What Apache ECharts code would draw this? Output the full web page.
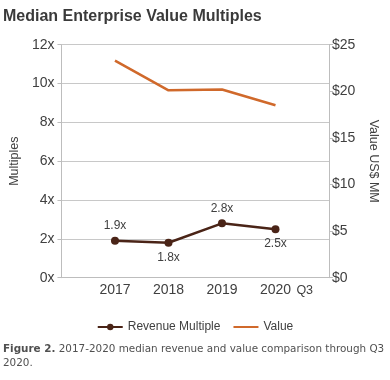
<!DOCTYPE html>
<html><head><meta charset="utf-8">
<script src="https://cdn.jsdelivr.net/npm/echarts@6/dist/echarts.min.js"></script>
<style>html,body{margin:0;padding:0;background:#fff}#c{width:390px;height:380px}</style>
</head><body><div id="c"></div>
<script>
const categories = ['', '2017', '2018', '2019', '2020', ''];
const revenueMultiple = [null, 1.9, 1.8, 2.8, 2.5, null];
const valueMM = [null, 23.3, 20.1, 20.2, 18.5, null];
const labelPositions = [null, 'top', 'bottom', 'top', 'bottom', null];
const leftTicks = { min: 0, max: 12, interval: 2 };
const rightTicks = { min: 0, max: 25, interval: 5 };

const chart = echarts.init(document.getElementById('c'), null, { renderer: 'canvas' });
const txt = '#404040';
const ff = '"Liberation Sans", Arial, sans-serif';
chart.setOption({
  animation: false,
  backgroundColor: '#fff',
  title: [{
    text: 'Median Enterprise Value Multiples',
    left: -2, top: 4,
    textStyle: { fontFamily: ff, fontWeight: 'bold', fontSize: 16, color: '#3a3a3a' }
  }, {
    text: '{b|Figure 2.} 2017-2020 median revenue and value comparison through Q3\n2020.',
    left: -2, top: 337,
    textStyle: {
      fontFamily: '"DejaVu Sans"', fontSize: 10.4, color: '#505050', fontWeight: 'normal', lineHeight: 14,
      rich: { b: { fontFamily: '"DejaVu Sans"', fontSize: 10.4, fontWeight: 'bold', color: '#505050', lineHeight: 14 } }
    }
  }],
  legend: {
    bottom: 42, left: 'center', itemGap: 12, itemWidth: 25, itemHeight: 8,
    textStyle: { fontFamily: ff, fontSize: 12, color: txt },
    data: [{ name: 'Revenue Multiple' }, { name: 'Value', itemStyle: { opacity: 0 } }]
  },
  grid: { left: 57, right: 61, top: 44.7, bottom: 102.3 },
  xAxis: {
    type: 'category', data: categories, boundaryGap: false,
    axisLine: { lineStyle: { color: '#bdbdbd', width: 1 } },
    axisTick: { show: false },
    axisLabel: {
      fontFamily: ff, fontSize: 14, color: txt, margin: 5, interval: 0,
      formatter: function (v) { return v === '2020' ? '{s|}' + v + '{q|Q3}' : v; },
      rich: {
        s: { width: 22 },
        q: { width: 22, align: 'right', fontFamily: ff, fontSize: 12.5, color: txt, padding: [1, 0, 0, 0] }
      }
    }
  },
  yAxis: [{
    type: 'value', min: leftTicks.min, max: leftTicks.max, interval: leftTicks.interval,
    name: 'Multiples', nameLocation: 'middle', nameGap: 40, nameRotate: 90,
    nameTextStyle: { fontFamily: ff, fontSize: 12.5, color: txt },
    axisLine: { show: true, lineStyle: { color: '#bdbdbd' } },
    axisTick: { show: true, length: 4, lineStyle: { color: '#bdbdbd' } },
    splitLine: { lineStyle: { color: '#c8c8c8', width: 1 } },
    axisLabel: { formatter: '{value}x', fontFamily: ff, fontSize: 14, color: txt, margin: 7 }
  }, {
    type: 'value', min: rightTicks.min, max: rightTicks.max, interval: rightTicks.interval,
    name: 'Value US$ MM', nameLocation: 'middle', nameGap: 38, nameRotate: -90,
    nameTextStyle: { fontFamily: ff, fontSize: 12.5, color: txt },
    axisLine: { show: true, lineStyle: { color: '#bdbdbd' } },
    axisTick: { show: true, length: 4, lineStyle: { color: '#bdbdbd' } },
    splitLine: { show: false },
    axisLabel: { formatter: '${value}', fontFamily: ff, fontSize: 14, color: txt, margin: 3 }
  }],
  series: [{
    name: 'Revenue Multiple', type: 'line', yAxisIndex: 0, z: 3,
    data: revenueMultiple.map((v, i) => v == null ? null : {
      value: v,
      label: { show: true, position: labelPositions[i], distance: labelPositions[i] === 'top' ? 5 : 5 }
    }),
    symbol: 'circle', symbolSize: 8,
    lineStyle: { color: '#4a2417', width: 2.5 }, itemStyle: { color: '#4a2417' },
    label: { formatter: p => p.value.toFixed(1) + 'x', fontFamily: ff, fontSize: 12, color: txt }
  }, {
    name: 'Value', type: 'line', yAxisIndex: 1, data: valueMM,
    showSymbol: false, symbol: 'none',
    lineStyle: { color: '#d0692b', width: 2.5 }, itemStyle: { color: '#d0692b' }
  }]
});
</script></body></html>
